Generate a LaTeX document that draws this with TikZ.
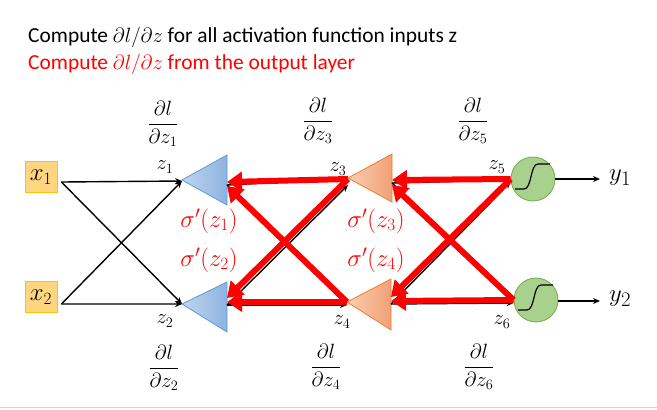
\documentclass[tikz,border=0pt]{standalone}
\usepackage{amsmath}
\usepackage{fontspec}
\setmainfont{Carlito}
\usetikzlibrary{arrows.meta}
\definecolor{bluL}{RGB}{192,213,239}
\definecolor{bluR}{RGB}{141,179,224}
\definecolor{bluB}{RGB}{91,155,213}
\definecolor{orL}{RGB}{249,206,178}
\definecolor{orR}{RGB}{242,160,118}
\definecolor{orB}{RGB}{237,125,49}
\definecolor{grnfill}{RGB}{169,209,142}
\definecolor{grnborder}{RGB}{112,173,71}
\definecolor{infill}{RGB}{255,214,128}
\definecolor{inborder}{RGB}{255,192,0}
\definecolor{rulegray}{RGB}{210,210,210}
\begin{document}
\begin{tikzpicture}[x=1bp,y=-1bp,
  inbox/.style={draw=inborder, fill=infill, line width=0.8bp, minimum width=32bp, minimum height=31bp, inner sep=0pt, font=\fontsize{27}{29}\selectfont},
  neuron/.style={circle, draw=grnborder, fill=grnfill, line width=0.8bp, minimum size=44bp, inner sep=0pt},
  fwd/.style={line width=1.4bp, -{Stealth[length=7bp,width=6bp]}},
  bwd/.style={draw=red, line width=6bp, -{Triangle[length=15bp,width=19bp]}},
  zlab/.style={font=\fontsize{21}{23}\selectfont},
  fraclab/.style={font=\fontsize{20}{22}\selectfont},
  siglab/.style={text=red, font=\fontsize{26}{28}\selectfont},
  ylab/.style={font=\fontsize{28}{30}\selectfont},
  bluetri/.style={left color=bluL, right color=bluR, draw=bluB, line width=0.8bp},
  orangetri/.style={left color=orL, right color=orR, draw=orB, line width=0.8bp},
]
\useasboundingbox (0,0) rectangle (657,409);

% titles
\node[anchor=base west, inner sep=0pt, font=\fontsize{21.5}{24}\selectfont] (title1) at (28,42) {Compute $\partial l/\partial z$ for all activation function inputs z};
\node[anchor=base west, inner sep=0pt, text=red, font=\fontsize{21.5}{24}\selectfont] (title2) at (28,69) {Compute $\partial l/\partial z$ from the output layer};

% inputs
\node[inbox] (x1) at (41,177) {$x_1$};
\node[inbox] (x2) at (41,297) {$x_2$};

% blue triangles
\shade[bluetri] (182,180) -- (227,155) -- (227,205) -- cycle;
\shade[bluetri] (182,304) -- (227,282) -- (227,332) -- cycle;
\coordinate (b1t) at (182,181);
\coordinate (b2t) at (182,304);
\coordinate (b1b) at (227,182);
\coordinate (b2b) at (227,302);

% orange triangles
\shade[orangetri] (348,178) -- (392,154) -- (392,202) -- cycle;
\shade[orangetri] (347,302) -- (391,279) -- (391,330) -- cycle;
\coordinate (o1t) at (348,179);
\coordinate (o2t) at (347,302);
\coordinate (o1b) at (392,180);
\coordinate (o2b) at (391,301);

% neurons
\node[neuron] (n1) at (533,179) {};
\node[neuron] (n2) at (536,300) {};
\foreach \n in {n1,n2}{
  \draw[line width=1.2bp] ([shift={(-18,10)}]\n.center) -- ([shift={(-9,10)}]\n.center)
     .. controls ([shift={(-1,10)}]\n.center) and ([shift={(-3,-15)}]\n.center) .. ([shift={(5,-15)}]\n.center)
     -- ([shift={(17,-15)}]\n.center);
}

% outputs
\coordinate (y1a) at (600,179);
\coordinate (y2a) at (600,301);
\node[ylab, anchor=west, inner sep=0pt] (y1) at (609,178) {$y_1$};
\node[ylab, anchor=west, inner sep=0pt] (y2) at (609,299) {$y_2$};
\draw[fwd] (n1.east) -- (y1a);
\draw[fwd] (n2.east |- y2a) -- (y2a);

% input arrows
\draw[fwd] ([yshift=-5bp]x1.east) ++(4,0) coordinate (x1o) -- (b1t);
\draw[fwd] (x1o) -- (b2t);
\draw[fwd] ([yshift=-7bp]x2.east) ++(4,0) coordinate (x2o) -- (b1t);
\draw[fwd] (x2o) -- (b2t);

% forward arrows hidden under the red ones
\draw[fwd] ([yshift=-3bp]b1b) -- (o1t);
\draw[fwd] ([yshift=-3bp]b1b) -- ([yshift=-3bp]o2t);
\draw[fwd] ([yshift=-3bp]b2b) -- ([yshift=-6bp]o1t);
\draw[fwd] ([yshift=-3bp]b2b) -- ([yshift=-3bp]o2t);
\draw[fwd] ([yshift=-3bp]o1b) -- ([yshift=-1bp]n1.west);
\draw[fwd] ([yshift=-3bp]o1b) -- ([yshift=-2bp]n2.west);
\draw[fwd] ([yshift=-3bp]o2b) -- ([yshift=-3bp]n1.west);
\draw[fwd] ([yshift=-3bp]o2b) -- ([yshift=-3bp]n2.west);

% backward red arrows
\draw[bwd] (o1t) -- (b1b);
\draw[bwd] (o1t) -- ([yshift=4bp]b2b);
\draw[bwd] (o2t) -- ([yshift=-4bp]b1b);
\draw[bwd] (o2t) -- (b2b);
\draw[bwd] (n1.west) -- (o1b);
\draw[bwd] (n1.west) -- ([yshift=4bp]o2b);
\draw[bwd] (n2.west) -- ([yshift=-5bp]o1b);
\draw[bwd] (n2.west) -- (o2b);

% z labels
\node[zlab] (z1) at (165,167) {$z_1$};
\node[zlab] (z2) at (165,321) {$z_2$};
\node[zlab] (z3) at (338,169) {$z_3$};
\node[zlab] (z4) at (342,322) {$z_4$};
\node[zlab] (z5) at (497,167) {$z_5$};
\node[zlab] (z6) at (502,322) {$z_6$};

% fractions
\node[fraclab] (d1) at (163,124) {$\dfrac{\partial l}{\partial z_1}$};
\node[fraclab] (d3) at (318,121) {$\dfrac{\partial l}{\partial z_3}$};
\node[fraclab] (d5) at (473,121) {$\dfrac{\partial l}{\partial z_5}$};
\node[fraclab] (d2) at (164,368) {$\dfrac{\partial l}{\partial z_2}$};
\node[fraclab] (d4) at (326,367) {$\dfrac{\partial l}{\partial z_4}$};
\node[fraclab] (d6) at (479,367) {$\dfrac{\partial l}{\partial z_6}$};

% sigma labels
\node[siglab] (s1) at (209,221) {$\sigma'(z_1)$};
\node[siglab] (s2) at (209,260) {$\sigma'(z_2)$};
\node[siglab] (s3) at (376,221) {$\sigma'(z_3)$};
\node[siglab] (s4) at (376,260) {$\sigma'(z_4)$};

% bottom rule
\draw[rulegray, line width=1bp] (0,407) coordinate (r0) -- (657,407) coordinate (r1);
\end{tikzpicture}
\end{document}
